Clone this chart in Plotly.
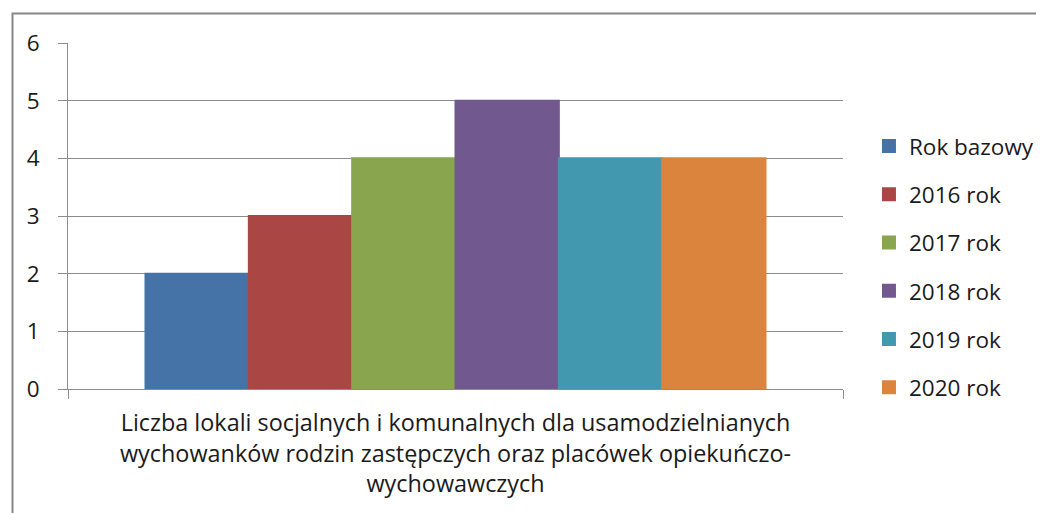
import plotly.graph_objects as go

# data
category = "Liczba lokali socjalnych i komunalnych dla usamodzielnianych<br>wychowanków rodzin zastępczych oraz placówek opiekuńczo-<br>wychowawczych"
series_names = ["Rok bazowy", "2016 rok", "2017 rok", "2018 rok", "2019 rok", "2020 rok"]
series_values = [2, 3, 4, 5, 4, 4]
series_colors = ["#4572A7", "#AA4643", "#89A54E", "#71588F", "#4198AF", "#DB843D"]
y_ticks = [0, 1, 2, 3, 4, 5, 6]

FONT = "'Open Sans', Lato, sans-serif"
GRID = "#8c8c8c"

fig = go.Figure()
for name, val, col in zip(series_names, series_values, series_colors):
    fig.add_trace(
        go.Bar(
            x=[category],
            y=[val],
            name=name,
            # same-colour outline makes the legend squares a bit bigger
            marker=dict(color=col, line=dict(width=2, color=col)),
            legendgroup=name,
        )
    )

# the page body adds an 8px margin, so the margins here are 8px smaller
fig.update_layout(
    width=1044,
    height=513,
    margin=dict(l=60, r=209, t=35, b=132),
    paper_bgcolor="white",
    plot_bgcolor="white",
    barmode="group",
    bargap=0.2,
    bargroupgap=0,
    font=dict(family=FONT, size=22.5, color="#1a1a1a"),
    legend=dict(
        x=1.0335,
        xanchor="left",
        y=0.353,
        yanchor="middle",
        traceorder="grouped",
        tracegroupgap=16,
        font=dict(size=22.5),
        bgcolor="rgba(0,0,0,0)",
    ),
    showlegend=True,
)

fig.update_yaxes(
    range=[0, 6],
    tickvals=y_ticks,
    showgrid=True,
    gridcolor=GRID,
    gridwidth=1,
    showline=True,
    linecolor=GRID,
    linewidth=1,
    ticks="outside",
    ticklen=9,
    tickcolor=GRID,
    ticklabelstandoff=14,
    zeroline=False,
)
fig.update_xaxes(
    showline=True,
    linecolor=GRID,
    linewidth=1,
    ticks="outside",
    tickson="boundaries",
    ticklen=9,
    tickcolor=GRID,
    ticklabelstandoff=13,
    tickfont=dict(size=23.4),
)

# outer chart frame
fig.add_shape(
    type="rect",
    xref="paper",
    yref="paper",
    x0=-0.0716,
    x1=1.6,
    y0=-0.6,
    y1=1.0853,
    line=dict(color="#878787", width=2),
    fillcolor="rgba(0,0,0,0)",
    layer="below",
)

fig.write_html("out.html")
